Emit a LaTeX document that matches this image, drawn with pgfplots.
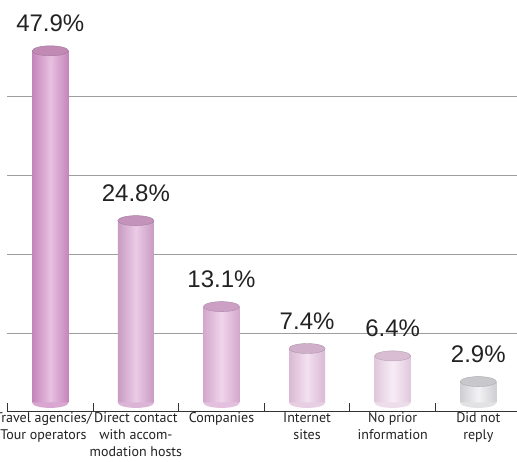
\documentclass[border=0pt]{standalone}
\usepackage{pgfplots}
\pgfplotsset{compat=1.18}
\usepackage{fontspec}
\setmainfont{PT Sans}
\newfontfamily\numfont{Liberation Sans}
\definecolor{txt}{HTML}{222222}
\definecolor{ea}{HTML}{C486B9}\definecolor{ma}{HTML}{E8C0E2}\definecolor{ca}{HTML}{C08AB4}
\definecolor{eb}{HTML}{C99BC3}\definecolor{mb}{HTML}{EBCBE6}\definecolor{cb}{HTML}{C393BC}
\definecolor{ec}{HTML}{D3A8CC}\definecolor{mc}{HTML}{F0D4EC}\definecolor{cc}{HTML}{CC9FC5}
\definecolor{ed}{HTML}{D9B9D3}\definecolor{md}{HTML}{F3E0F0}\definecolor{cd}{HTML}{CFAFC9}
\definecolor{ee}{HTML}{E0C8DC}\definecolor{me}{HTML}{F8ECF6}\definecolor{ce}{HTML}{D8BDD3}
\definecolor{ef}{HTML}{CFCFD3}\definecolor{mf}{HTML}{F2F2F4}\definecolor{cf}{HTML}{C8C8CC}
\pgfdeclareplotmark{cylcap}{%
  \pgfpathellipse{\pgfpointorigin}{\pgfqpoint{18pt}{0pt}}{\pgfqpoint{0pt}{5pt}}%
  \pgfusepathqfillstroke}
\pgfdeclareplotmark{cylbot}{%
  \pgfpathmoveto{\pgfqpoint{-18pt}{0.5pt}}%
  \pgfpathlineto{\pgfqpoint{-18pt}{0pt}}%
  \pgfpatharc{180}{360}{18pt and 5pt}%
  \pgfpathlineto{\pgfqpoint{18pt}{0.5pt}}%
  \pgfpathclose
  \pgfusepathqfill}
\pgfplotstableread{
x y
0 47.9
}\ta
\pgfplotstableread{
x y
1 24.8
}\tb
\pgfplotstableread{
x y
2 13.1
}\tc
\pgfplotstableread{
x y
3 7.4
}\td
\pgfplotstableread{
x y
4 6.4
}\te
\pgfplotstableread{
x y
5 2.9
}\tf
\begin{document}
\begin{tikzpicture}
\begin{axis}[
  scale only axis,
  width=513.6pt, height=410.9pt,
  xmin=-0.5, xmax=5.5, ymin=-1.1, ymax=54.8,
  axis lines*=left,
  y axis line style={draw=none},
  x axis line style={draw=black!80, line width=0.8pt},
  ytick={9.5,20.25,31,41.75},
  yticklabels={},
  ytick style={draw=none},
  ymajorgrids,
  major grid style={draw=black!38, line width=0.7pt},
  xtick={1,...,5},
  extra x ticks={-0.08},
  extra x tick labels={{Travel agencies/\\Tour operators}},
  extra x tick style={major tick length=0pt, grid=none},
  minor xtick={-0.5,0.5,...,5.5},
  tick align=inside,
  major tick length=0pt,
  minor tick length=8pt,
  minor tick style={draw=black!80, line width=0.8pt},
  xticklabels={{Direct contact\\with accom-\\modation hosts},{Companies},{Internet\\sites},{No prior\\information},{Did not\\reply}},
  xticklabel style={align=center, font=\fontsize{14}{17}\selectfont, text=txt, inner sep=1pt, anchor=north},
  clip=false,
  /pgf/number format/assume math mode=true,
  nodes near coords={\pgfmathprintnumber[fixed,precision=1,fixed zerofill,assume math mode=true]{\pgfplotspointmeta}\%},
  nodes near coords style={font=\numfont\fontsize{24}{24}\selectfont, text=txt, anchor=base, inner sep=0pt, yshift=19pt},
]
% bars
\addplot[ybar, bar width=36pt, bar shift=0pt, draw=none, left color=ea, right color=ea, middle color=ma] table[x=x,y=y] {\ta};
\addplot[ybar, bar width=36pt, bar shift=0pt, draw=none, left color=eb, right color=eb, middle color=mb] table[x=x,y=y] {\tb};
\addplot[ybar, bar width=36pt, bar shift=0pt, draw=none, left color=ec, right color=ec, middle color=mc] table[x=x,y=y] {\tc};
\addplot[ybar, bar width=36pt, bar shift=0pt, draw=none, left color=ed, right color=ed, middle color=md] table[x=x,y=y] {\td};
\addplot[ybar, bar width=36pt, bar shift=0pt, draw=none, left color=ee, right color=ee, middle color=me] table[x=x,y=y] {\te};
\addplot[ybar, bar width=36pt, bar shift=0pt, draw=none, left color=ef, right color=ef, middle color=mf] table[x=x,y=y] {\tf};
% bottoms
\addplot[only marks, mark=cylbot, mark options={fill=ma!55!ea}, nodes near coords={}] coordinates {(0,0)};
\addplot[only marks, mark=cylbot, mark options={fill=mb!55!eb}, nodes near coords={}] coordinates {(1,0)};
\addplot[only marks, mark=cylbot, mark options={fill=mc!55!ec}, nodes near coords={}] coordinates {(2,0)};
\addplot[only marks, mark=cylbot, mark options={fill=md!55!ed}, nodes near coords={}] coordinates {(3,0)};
\addplot[only marks, mark=cylbot, mark options={fill=me!55!ee}, nodes near coords={}] coordinates {(4,0)};
\addplot[only marks, mark=cylbot, mark options={fill=mf!55!ef}, nodes near coords={}] coordinates {(5,0)};
% caps
\addplot[only marks, mark=cylcap, mark options={fill=ca, draw=ca!85!black, line width=0.4pt}, nodes near coords={}] table[x=x,y=y] {\ta};
\addplot[only marks, mark=cylcap, mark options={fill=cb, draw=cb!85!black, line width=0.4pt}, nodes near coords={}] table[x=x,y=y] {\tb};
\addplot[only marks, mark=cylcap, mark options={fill=cc, draw=cc!85!black, line width=0.4pt}, nodes near coords={}] table[x=x,y=y] {\tc};
\addplot[only marks, mark=cylcap, mark options={fill=cd, draw=cd!85!black, line width=0.4pt}, nodes near coords={}] table[x=x,y=y] {\td};
\addplot[only marks, mark=cylcap, mark options={fill=ce, draw=ce!85!black, line width=0.4pt}, nodes near coords={}] table[x=x,y=y] {\te};
\addplot[only marks, mark=cylcap, mark options={fill=cf, draw=cf!85!black, line width=0.4pt}, nodes near coords={}] table[x=x,y=y] {\tf};
\end{axis}
\pgfresetboundingbox
\useasboundingbox (-7.5pt,-50pt) rectangle (509.5pt,411pt);
\end{tikzpicture}
\end{document}
